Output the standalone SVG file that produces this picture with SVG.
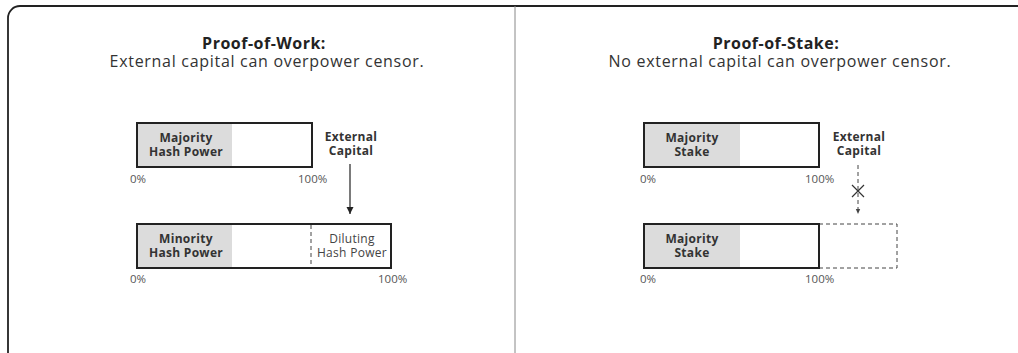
<svg xmlns="http://www.w3.org/2000/svg" width="1018" height="353" viewBox="0 0 1018 353">
<defs>
<marker id="ah" markerWidth="8" markerHeight="8" refX="7" refY="4" orient="auto" markerUnits="userSpaceOnUse">
<path d="M0,0.5 L7,4 L0,7.5 Z" fill="#222"/>
</marker>
<marker id="ahs" markerWidth="6" markerHeight="6" refX="5" refY="3" orient="auto" markerUnits="userSpaceOnUse">
<path d="M0,0.8 L5,3 L0,5.2 Z" fill="#444"/>
</marker>
<style>
text{font-family:"Open Sans","Noto Sans","Liberation Sans",sans-serif;fill:#222}
.t{font-size:16px;font-weight:bold;text-anchor:middle;letter-spacing:0.5px}
.s{font-size:16px;font-weight:normal;fill:#333;letter-spacing:0.7px}
.b{font-size:12px;font-weight:bold;text-anchor:middle;fill:#333;letter-spacing:0.3px}
.n{font-size:12px;text-anchor:middle;fill:#444;letter-spacing:0.3px}
.p{font-size:11.5px;fill:#555}
.bar{fill:#fff;stroke:#222;stroke-width:2}
.fill{fill:#dcdcdc}
.dash{stroke:#444;stroke-width:1;stroke-dasharray:4 3;fill:none}
</style>
</defs>
<rect x="8" y="6" width="1030" height="370" rx="12" fill="#fff" stroke="#222" stroke-width="1.8"/>
<line x1="515" y1="6" x2="515" y2="353" stroke="#888" stroke-width="1"/>

<g id="pow-title">
<text class="t" x="264" y="49">Proof-of-Work:<tspan class="s" x="267" y="67">External capital can overpower censor.</tspan></text>
</g>
<g id="pos-title">
<text class="t" x="776" y="49">Proof-of-Stake:<tspan class="s" x="780" y="67">No external capital can overpower censor.</tspan></text>
</g>

<g id="pow-top">
<rect class="bar" x="137" y="123" width="175" height="44"/>
<rect class="fill" x="138" y="124" width="94" height="42"/>
<text class="b" x="186" y="142">Majority<tspan x="186" y="156">Hash Power</tspan></text>
<text class="p" x="130" y="183">0%</text>
<text class="p" x="298" y="183">100%</text>
</g>
<g id="pow-ext">
<text class="b" x="351" y="141">External<tspan x="351" y="155">Capital</tspan></text>
</g>
<g id="pow-bottom">
<rect class="bar" x="137" y="224" width="254" height="44"/>
<rect class="fill" x="138" y="225" width="94" height="42"/>
<line class="dash" x1="311" y1="225" x2="311" y2="267"/>
<text class="b" x="186" y="243">Minority<tspan x="186" y="257">Hash Power</tspan></text>
<text class="n" x="352" y="243">Diluting<tspan x="352" y="257">Hash Power</tspan></text>
<text class="p" x="130" y="283">0%</text>
<text class="p" x="378" y="283">100%</text>
</g>

<g id="pos-top">
<rect class="bar" x="644" y="123" width="175" height="44"/>
<rect class="fill" x="645" y="124" width="95" height="42"/>
<text class="b" x="692" y="142">Majority<tspan x="692" y="156">Stake</tspan></text>
<text class="p" x="640" y="183">0%</text>
<text class="p" x="805" y="183">100%</text>
</g>
<g id="pos-ext">
<text class="b" x="859" y="141">External<tspan x="859" y="155">Capital</tspan></text>
</g>
<g id="pos-bottom">
<path class="dash" d="M819,224 H897 V268 H819"/>
<rect class="bar" x="644" y="224" width="175" height="44"/>
<rect class="fill" x="645" y="225" width="95" height="42"/>
<text class="b" x="692" y="243">Majority<tspan x="692" y="257">Stake</tspan></text>
<text class="p" x="640" y="283">0%</text>
<text class="p" x="805" y="283">100%</text>
</g>

<g id="connectors">
<line x1="350" y1="164" x2="350" y2="214" stroke="#222" stroke-width="1.2" marker-end="url(#ah)"/>
<line class="dash" x1="858" y1="165" x2="858" y2="214" marker-end="url(#ahs)"/>
<path d="M852,185 L864,197 M864,185 L852,197" stroke="#333" stroke-width="1.2" fill="none"/>
</g>
</svg>
